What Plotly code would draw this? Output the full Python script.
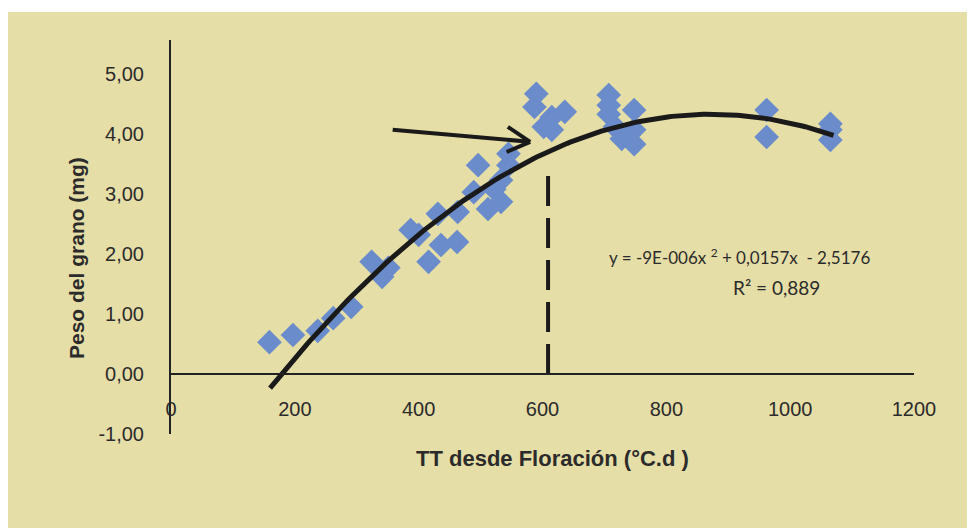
import plotly.graph_objects as go
import numpy as np

# Observed data (TT desde floración, peso del grano)
tt = [159, 197, 237, 262, 291, 324, 341, 351, 387, 400, 416, 431, 436, 462, 463,
      489, 496, 512, 522, 533, 533, 545, 545, 590, 587, 615, 602, 615, 636,
      707, 707, 707, 748, 717, 728, 748, 748, 962, 962, 1065, 1065, 1065]
peso = [0.53, 0.65, 0.72, 0.93, 1.12, 1.87, 1.62, 1.77, 2.40, 2.32, 1.87, 2.67, 2.15, 2.20, 2.70,
        3.03, 3.48, 2.75, 3.08, 2.87, 3.23, 3.48, 3.67, 4.67, 4.45, 4.28, 4.12, 4.07, 4.37,
        4.65, 4.48, 4.33, 4.40, 4.12, 3.92, 4.07, 3.83, 4.40, 3.95, 4.17, 4.07, 3.90]

# Trendline coefficients (as shown on chart)
coef_a, coef_b, coef_c = -9e-6, 0.0157, -2.5176
trend_x_range = [160, 1070]

# Vertical dashed marker
vline_x = [609, 609]
vline_y = [0.0, 3.48]

# Arrow (start, tip, head arms) in data units
arrow_start = (358, 4.07)
arrow_tip = (580, 3.87)
arrow_arm1 = (544, 4.12)
arrow_arm2 = (542, 3.70)

x_ticks = [0, 200, 400, 600, 800, 1000, 1200]
y_ticks = [-1, 0, 1, 2, 3, 4, 5]
y_ticktext = [f"{v:.2f}".replace(".", ",") for v in y_ticks]

BEIGE = "#E6DEA7"
FONT = "Liberation Sans, Arial, sans-serif"
TXT = "#2b2b2b"

tx = np.linspace(trend_x_range[0], trend_x_range[1], 200)
ty = coef_a * tx**2 + coef_b * tx + coef_c

fig = go.Figure()
fig.add_trace(go.Scatter(x=tt, y=peso, mode="markers",
                         marker=dict(symbol="diamond", size=19, color="#6B8CCB", line=dict(width=0)),
                         hoverinfo="x+y"))
fig.add_trace(go.Scatter(x=tx, y=ty, mode="lines", line=dict(color="#1a1a1a", width=5)))
fig.add_trace(go.Scatter(x=vline_x, y=vline_y, mode="lines",
                         line=dict(color="#1a1a1a", width=4, dash="30px,12px")))
for (x0, y0) in [arrow_start, arrow_arm1, arrow_arm2]:
    fig.add_trace(go.Scatter(x=[x0, arrow_tip[0]], y=[y0, arrow_tip[1]], mode="lines",
                             line=dict(color="#1a1a1a", width=4)))

OFF = 8  # page body margin
W, H = 967, 520
L, T = 171 - OFF, 40 - OFF
R = W - (914 - OFF)
B = H - (434 - OFF)
pw, ph = W - L - R, H - T - B
y_top = -1 + (434 - 40) / 60.0

def px_x(page_x):
    return (page_x - OFF - L) / pw

def px_y(page_y):
    return (H - B - (page_y - OFF)) / ph

fig.add_shape(type="rect", xref="paper", yref="paper",
              x0=px_x(0), x1=px_x(W + 20), y0=px_y(H + 30), y1=px_y(12),
              fillcolor=BEIGE, line=dict(width=0), layer="below")

fig.update_layout(
    width=W, height=H,
    margin=dict(l=L, r=R, t=T, b=B),
    paper_bgcolor="white", plot_bgcolor=BEIGE,
    showlegend=False,
    font=dict(family=FONT, size=20, color=TXT),
    xaxis=dict(range=[0, 1200], tickvals=x_ticks, showgrid=False, zeroline=False,
               showline=True, linecolor="#222", linewidth=2,
               anchor="free", position=1 / (y_top + 1), ticks="", ticklabelstandoff=17,
               tickfont=dict(size=20, color=TXT)),
    yaxis=dict(range=[-1, y_top], tickvals=y_ticks, ticktext=y_ticktext, showgrid=False,
               zeroline=False, showline=True, linecolor="#222", linewidth=2,
               ticks="", ticklabelstandoff=21, tickfont=dict(size=20, color=TXT)),
    annotations=[
        dict(text="<b>TT desde Floración (°C.d )</b>", xref="paper", yref="paper",
             x=px_x(552), y=px_y(458), xanchor="center", yanchor="middle", showarrow=False,
             font=dict(size=22, color=TXT)),
        dict(text="<b>Peso del grano (mg)</b>", xref="paper", yref="paper",
             x=px_x(76), y=px_y(258), xanchor="center", yanchor="middle", showarrow=False,
             textangle=-90, font=dict(size=21, color=TXT)),
        dict(text="y = -9E-006x <sup>2</sup> + 0,0157x  - 2,5176", xref="paper", yref="paper",
             x=px_x(739), y=px_y(257), xanchor="center", yanchor="middle", showarrow=False,
             font=dict(family="Lato, sans-serif", size=17, color=TXT)),
        dict(text="R² = 0,889", xref="paper", yref="paper",
             x=px_x(776), y=px_y(287), xanchor="center", yanchor="middle", showarrow=False,
             font=dict(family="Lato, sans-serif", size=19, color=TXT)),
    ],
)

fig.write_html("out.html")
